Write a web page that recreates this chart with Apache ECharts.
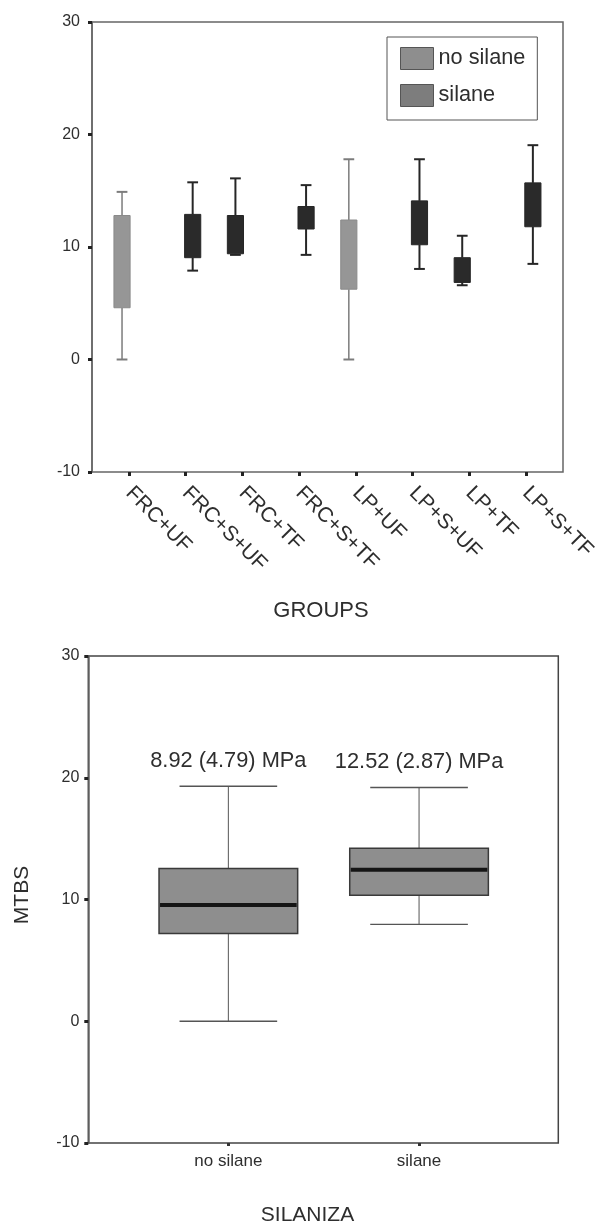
<!DOCTYPE html>
<html><head><meta charset="utf-8">
<script src="https://cdn.jsdelivr.net/npm/echarts@6/dist/echarts.min.js"></script>
<style>html,body{margin:0;padding:0;background:#fff}#c{width:606px;height:1225px}</style>
</head><body><div id="c"></div>
<script>
// ---------- data: top chart (GROUPS) ----------
const groupCategories = ['FRC+UF','FRC+S+UF','FRC+TF','FRC+S+TF','LP+UF','LP+S+UF','LP+TF','LP+S+TF'];
const groupSilane     = ['no silane','silane','no silane','silane','no silane','silane','no silane','silane'];
const groupMin = [0,    7.9,  9.3,  9.3,  0,    8.05, 6.6,  8.5];
const groupQ1  = [4.6,  9.05, 9.4,  11.6, 6.25, 10.2, 6.85, 11.8];
const groupQ3  = [12.8, 12.9, 12.8, 13.6, 12.4, 14.1, 9.05, 15.7];
const groupMax = [14.9, 15.75,16.1, 15.5, 17.8, 17.8, 11.0, 19.05];
const seriesNames = ['no silane','silane'];

// ---------- data: bottom chart (SILANIZA) ----------
const silanizaCategories = ['no silane','silane'];
const silMin = [0,     7.95];
const silQ1  = [7.2,   10.35];
const silMed = [9.55,  12.45];
const silQ3  = [12.55, 14.2];
const silMax = [19.3,  19.2];
const silLabels = ['8.92 (4.79) MPa','12.52 (2.87) MPa'];

const yMinVal = -10, yMaxVal = 30, yInterval = 10;

// ---------- styles ----------
const FONT = '"Liberation Sans", Arial, Helvetica, sans-serif';
const TXT = '#2e2e2e';
const lightBox = {fill:'#969696', stroke:'#8a8a8a', line:'#7c7c7c', lw:1.5};
const darkBox  = {fill:'#2a2a2a', stroke:'#262626', line:'#262626', lw:2};
const lightGroups = ['FRC+UF','LP+UF'];
const seriesOffset = {'no silane': -0.123, 'silane': 0.123};

function topRender(name) {
  return function (params, api) {
    const i = api.value(0);
    const band = api.size([1, 0])[0];
    const cx = api.coord([i, 0])[0] + seriesOffset[name] * band;
    const yMin = api.coord([i, api.value(1)])[1];
    const yQ1 = api.coord([i, api.value(2)])[1];
    const yQ3 = api.coord([i, api.value(3)])[1];
    const yMax = api.coord([i, api.value(4)])[1];
    const st = lightGroups.indexOf(groupCategories[i]) >= 0 ? lightBox : darkBox;
    const w = band * 0.285, cw = band * 0.19;
    const ls = {stroke: st.line, lineWidth: st.lw};
    return {type:'group', children:[
      {type:'line', shape:{x1:cx,y1:yMax,x2:cx,y2:yQ3}, style:ls},
      {type:'line', shape:{x1:cx,y1:yQ1,x2:cx,y2:yMin}, style:ls},
      {type:'line', shape:{x1:cx-cw/2,y1:yMax,x2:cx+cw/2,y2:yMax}, style:{stroke:st.line,lineWidth:2}},
      {type:'line', shape:{x1:cx-cw/2,y1:yMin,x2:cx+cw/2,y2:yMin}, style:{stroke:st.line,lineWidth:2}},
      {type:'rect', shape:{x:cx-w/2,y:yQ3,width:w,height:yQ1-yQ3}, style:{fill:st.fill,stroke:st.stroke,lineWidth:1}}
    ]};
  };
}

function botRender(params, api) {
  const i = api.value(0);
  const band = api.size([1, 0])[0];
  const cx = api.coord([i, 0])[0];
  const y = k => api.coord([i, api.value(k)])[1];
  const yMin = y(1), yQ1 = y(2), yMed = y(3), yQ3 = y(4), yMax = y(5);
  const w = band * 0.727, cw = band * 0.512;
  const ws = {stroke:'#555', lineWidth:1};
  return {type:'group', children:[
    {type:'line', shape:{x1:cx,y1:yMax,x2:cx,y2:yQ3}, style:ws},
    {type:'line', shape:{x1:cx,y1:yQ1,x2:cx,y2:yMin}, style:ws},
    {type:'line', shape:{x1:cx-cw/2,y1:yMax,x2:cx+cw/2,y2:yMax}, style:{stroke:'#555',lineWidth:1.3}},
    {type:'line', shape:{x1:cx-cw/2,y1:yMin,x2:cx+cw/2,y2:yMin}, style:{stroke:'#555',lineWidth:1.3}},
    {type:'rect', shape:{x:cx-w/2,y:yQ3,width:w,height:yQ1-yQ3}, style:{fill:'#8e8e8e',stroke:'#3a3a3a',lineWidth:1.5}},
    {type:'line', shape:{x1:cx-w/2+1,y1:yMed,x2:cx+w/2-1,y2:yMed}, style:{stroke:'#151515',lineWidth:4}},
    {type:'text', style:{text:silLabels[params.dataIndex], x:cx, y:yMax-25, textAlign:'center', textVerticalAlign:'middle',
      font:'21.8px ' + FONT, fill:TXT}}
  ]};
}

const topData = {};
seriesNames.forEach(n => topData[n] = []);
groupCategories.forEach((c, i) => {
  topData[groupSilane[i]].push([c, groupMin[i], groupQ1[i], groupQ3[i], groupMax[i]]);
});
const botData = silanizaCategories.map((c, i) => [c, silMin[i], silQ1[i], silMed[i], silQ3[i], silMax[i]]);

const valAxisHidden = (g) => ({gridIndex:g, type:'value', min:yMinVal, max:yMaxVal, interval:yInterval, show:false});
const valAxisShown = (g, margin) => ({
  gridIndex:g, type:'value', min:yMinVal, max:yMaxVal, interval:yInterval,
  axisLine:{show:true, lineStyle:{color:'#666', width:1.5}},
  axisTick:{show:true, length:4, lineStyle:{color:'#222', width:3}},
  axisLabel:{fontFamily:FONT, fontSize:16, color:TXT, margin:margin},
  splitLine:{show:false}
});

const chart = echarts.init(document.getElementById('c'), null, {renderer:'canvas'});
chart.setOption({
  animation:false,
  backgroundColor:'#fff',
  grid:[
    {left:92, top:22, width:471, height:450, show:true, borderColor:'#666', borderWidth:1.5, backgroundColor:'transparent'},
    {left:100.65, top:22, width:453.6, height:450},
    {left:88.3, top:656, width:470, height:487, show:true, borderColor:'#444', borderWidth:1.5, backgroundColor:'transparent'},
    {left:133, top:656, width:381.4, height:487}
  ],
  xAxis:[
    {gridIndex:0, type:'value', min:0, max:1, show:false},
    {gridIndex:1, type:'category', data:groupCategories, position:'bottom',
      axisLine:{show:false, onZero:false},
      axisTick:{show:true, alignWithLabel:true, length:4, lineStyle:{color:'#222', width:3}},
      axisLabel:{interval:0, rotate:-45, fontFamily:FONT, fontSize:21, color:TXT, margin:18}},
    {gridIndex:2, type:'value', min:0, max:1, show:false},
    {gridIndex:3, type:'category', data:silanizaCategories, position:'bottom',
      axisLine:{show:false, onZero:false},
      axisTick:{show:true, alignWithLabel:true, length:3, lineStyle:{color:'#333', width:3}},
      axisLabel:{interval:0, fontFamily:FONT, fontSize:17, color:TXT, margin:10}}
  ],
  yAxis:[valAxisShown(0, 12), valAxisHidden(1), valAxisShown(2, 9), valAxisHidden(3)],
  legend:{
    left:387, top:37, orient:'vertical', padding:[10,12,13,13], itemGap:14, itemWidth:33, itemHeight:22,
    borderColor:'#555', borderWidth:1, backgroundColor:'#fff', selectedMode:false,
    textStyle:{fontFamily:FONT, fontSize:21.7, color:TXT, lineHeight:22},
    data:[
      {name:'no silane', icon:'rect', itemStyle:{color:'#8e8e8e', borderColor:'#555', borderWidth:1}},
      {name:'silane', icon:'rect', itemStyle:{color:'#7d7d7d', borderColor:'#555', borderWidth:1}}
    ]
  },
  series:[
    {name:'no silane', type:'custom', xAxisIndex:1, yAxisIndex:1, data:topData['no silane'],
      itemStyle:{color:'#8e8e8e'}, renderItem:topRender('no silane'), encode:{x:0, y:[1,2,3,4]}},
    {name:'silane', type:'custom', xAxisIndex:1, yAxisIndex:1, data:topData['silane'],
      itemStyle:{color:'#7d7d7d'}, renderItem:topRender('silane'), encode:{x:0, y:[1,2,3,4]}},
    {name:'SILANIZA', type:'custom', xAxisIndex:3, yAxisIndex:3, data:botData,
      renderItem:botRender, encode:{x:0, y:[1,2,3,4,5]}}
  ],
  graphic:[
    {type:'text', x:321, y:611, style:{text:'GROUPS', textAlign:'center', textVerticalAlign:'middle', font:'22px ' + FONT, fill:TXT}},
    {type:'text', x:307.5, y:1215.5, style:{text:'SILANIZA', textAlign:'center', textVerticalAlign:'middle', font:'21px ' + FONT, fill:TXT}},
    {type:'text', x:22.7, y:895, rotation:Math.PI/2, style:{text:'MTBS', textAlign:'center', textVerticalAlign:'middle', font:'21px ' + FONT, fill:TXT}}
  ]
});
</script></body></html>
